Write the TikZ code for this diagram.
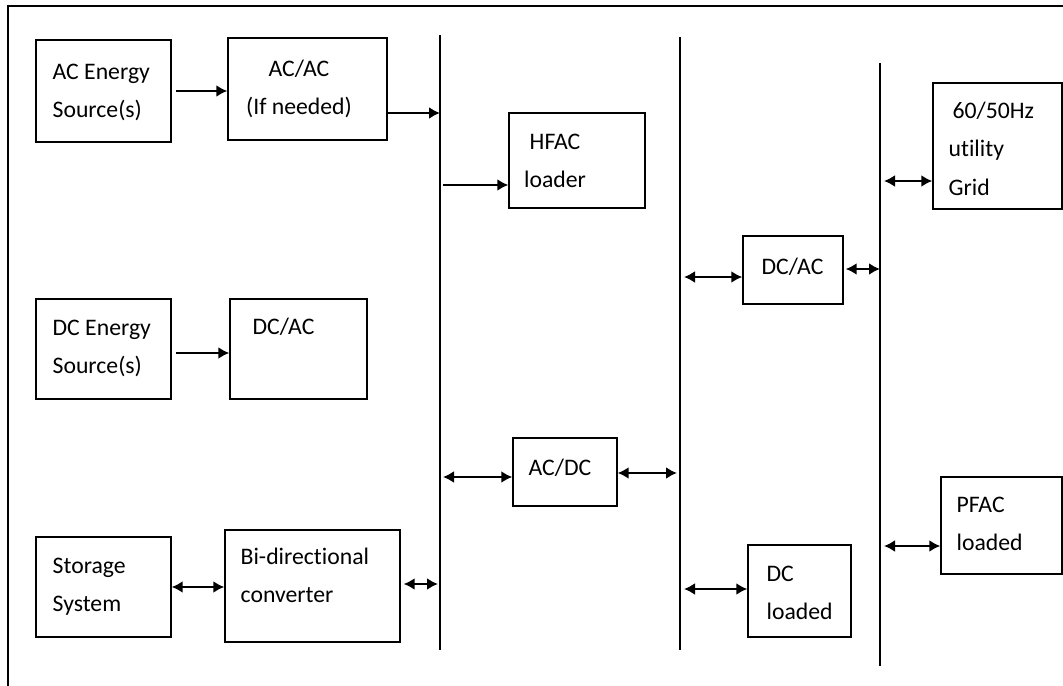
\documentclass[tikz,border=0pt]{standalone}
\usepackage{fontspec}
\setmainfont{Carlito}[Ligatures=NoCommon]
\usetikzlibrary{arrows.meta, positioning}
\tikzstyle{bloco} = [rectangle, draw=black, thick, inner sep=0pt]
\tikzstyle{texto} = [inner sep=0pt, align=left, font=\fontsize{13.5}{22}\selectfont]
\tikzstyle{barra} = [thick]
\tikzstyle{arrow} = [line width=1.3pt,->,>={Latex[length=0.22cm,width=0.24cm]}]
\tikzstyle{arrow2} = [line width=1.3pt,<->,>={Latex[length=0.22cm,width=0.24cm]}]

\begin{document}
\begin{tikzpicture}[x=0.02cm, y=-0.02cm]
\useasboundingbox (0,0) rectangle (1063,686);
\draw [thick] (8,690) -- (8,6) -- (1070,6);

% Nós
\node (acsrc) [bloco, minimum width=2.70cm, minimum height=2.04cm] at (103.5,91) {};
\node (acac) [bloco, minimum width=3.18cm, minimum height=2.04cm] at (307.5,89) {};
\node (hfac) [bloco, minimum width=2.72cm, minimum height=1.90cm] at (577,160.5) {};
\node (dcsrc) [bloco, minimum width=2.70cm, minimum height=2.00cm] at (103.5,349) {};
\node (dcac) [bloco, minimum width=2.74cm, minimum height=2.00cm] at (298.5,349) {};
\node (store) [bloco, minimum width=2.70cm, minimum height=2.00cm] at (103.5,587) {};
\node (bidir) [bloco, minimum width=3.50cm, minimum height=2.24cm] at (312.5,586) {};
\node (acdc) [bloco, minimum width=2.08cm, minimum height=1.36cm] at (565,472) {};
\node (dcac2) [bloco, minimum width=2.00cm, minimum height=1.36cm] at (793,270) {};
\node (grid) [bloco, minimum width=2.58cm, minimum height=2.52cm] at (997.5,146) {};
\node (dcload) [bloco, minimum width=2.06cm, minimum height=1.84cm] at (799.5,591) {};
\node (pfac) [bloco, minimum width=2.42cm, minimum height=1.94cm] at (1001.5,525.5) {};

% Textos
\node (acsrc-t) [texto, below right=0.48cm and 0.34cm of acsrc.north west] {AC Energy\\Source(s)};
\node (acac-t) [texto, align=center, below=0.44cm of acac.north, xshift=-0.17cm] {AC/AC\\(If needed)};
\node (hfac-t) [texto, align=center, below=0.42cm of hfac.north, xshift=-0.44cm] {HFAC\\loader};
\node (dcsrc-t) [texto, below right=0.42cm and 0.34cm of dcsrc.north west] {DC Energy\\Source(s)};
\node (dcac-t) [texto, below right=0.38cm and 0.46cm of dcac.north west] {DC/AC};
\node (store-t) [texto, below right=0.42cm and 0.34cm of store.north west] {Storage\\System};
\node (bidir-t) [texto, below right=0.36cm and 0.32cm of bidir.north west] {Bi-directional\\converter};
\node (acdc-t) [texto, below right=0.42cm and 0.32cm of acdc.north west] {AC/DC};
\node (dcac2-t) [texto, below right=0.44cm and 0.38cm of dcac2.north west] {DC/AC};
\node (grid-t) [texto, below right=0.38cm and 0.32cm of grid.north west] {\hspace*{0.08cm}60/50Hz\\utility\\Grid};
\node (dcload-t) [texto, below right=0.42cm and 0.38cm of dcload.north west] {DC\\loaded};
\node (pfac-t) [texto, below right=0.40cm and 0.32cm of pfac.north west] {PFAC\\loaded};

% Barramentos
\coordinate (b1t) at (440,35);  \coordinate (b1b) at (440,650);
\coordinate (b2t) at (680,37);  \coordinate (b2b) at (680,650);
\coordinate (b3t) at (880,63);  \coordinate (b3b) at (880,666);
\draw [barra] (b1t) -- (b1b);
\draw [barra] (b2t) -- (b2b);
\draw [barra] (b3t) -- (b3b);

\coordinate (t1) at (440,113);
\coordinate (t2) at (443,185);
\coordinate (t3) at (438,584);
\coordinate (t4) at (443,477);
\coordinate (t5) at (677,473);
\coordinate (t6) at (684,277);
\coordinate (t7) at (880,269);
\coordinate (t8) at (684,589);
\coordinate (t9) at (884,181);
\coordinate (t10) at (884,546);

% Conexões
\draw [arrow, shorten <=0.08cm] (acsrc.east) -- (acsrc.east -| acac.west);
\draw [arrow] (acac.east |- t1) -- (t1);
\draw [arrow] (t2) -- (t2 -| hfac.west);
\draw [arrow, shorten <=0.08cm] ([yshift=-0.08cm]dcsrc.east) -- ([yshift=-0.08cm]dcsrc.east -| dcac.west);
\draw [arrow2] (store.east) -- (store.east -| bidir.west);
\draw [arrow2] ([xshift=0.06cm]bidir.east |- t3) -- (t3);
\draw [arrow2] (t4) -- (t4 -| acdc.west);
\draw [arrow2] (acdc.east |- t5) -- (t5);
\draw [arrow2] (t6) -- (t6 -| dcac2.west);
\draw [arrow2] ([xshift=0.04cm]dcac2.east |- t7) -- (t7);
\draw [arrow2] (t8) -- (t8 -| dcload.west);
\draw [arrow2] (t9) -- (t9 -| grid.west);
\draw [arrow2] (t10) -- (t10 -| pfac.west);

\end{tikzpicture}
\end{document}
